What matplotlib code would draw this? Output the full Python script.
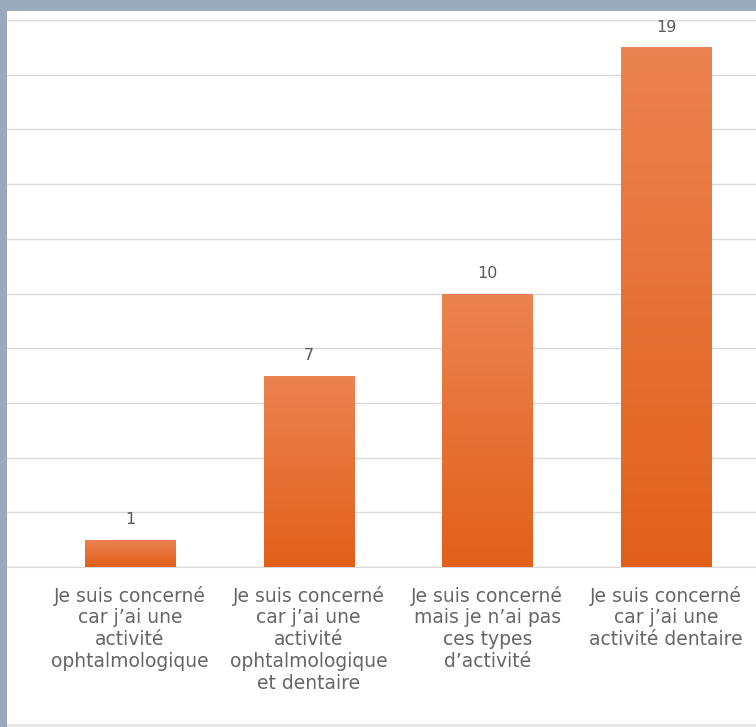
import matplotlib
matplotlib.use("Agg")
import matplotlib.pyplot as plt
import numpy as np
from matplotlib.colors import LinearSegmentedColormap
from matplotlib.patches import Rectangle

categories = [
    "Je suis concerné\ncar j'ai une\nactivité\nophtalmologique",
    "Je suis concerné\ncar j'ai une\nactivité\nophtalmologique\net dentaire",
    "Je suis concerné\nmais je n'ai pas\nces types\nd'activité",
    "Je suis concerné\ncar j'ai une\nactivité dentaire",
]
categories = [c.replace("'", "\u2019") for c in categories]
values = [1, 7, 10, 19]

W, H = 756, 727
fig = plt.figure(figsize=(W / 100, H / 100), dpi=100)
fig.patch.set_facecolor("#98AABB")

# white chart area
fig.add_artist(Rectangle((7 / W, (H - 724) / H), 1 - 7 / W, (724 - 11) / H,
                         transform=fig.transFigure, facecolor="white",
                         edgecolor="none", zorder=0))
fig.add_artist(Rectangle((7 / W, 0), 1 - 7 / W, (H - 724) / H,
                         transform=fig.transFigure, facecolor="#E6E6E6",
                         edgecolor="none", zorder=0))

ax_left, ax_right = 7, 756
ax_top, ax_bottom = 20, 567
ax = fig.add_axes([ax_left / W, (H - ax_bottom) / H,
                   (ax_right - ax_left) / W, (ax_bottom - ax_top) / H])
ax.set_facecolor("none")

spacing = 178.7
x = np.arange(len(values))
ax.set_xlim(-(130 - 7) / spacing, 3 + (756 - 666) / spacing)
ax.set_ylim(0, 20)
ax.set_yticks(np.arange(0, 21, 2))
ax.yaxis.grid(True, color="#D9D9D9", linewidth=1.0)
ax.set_axisbelow(True)
ax.tick_params(axis="y", left=False, labelleft=False)
ax.tick_params(axis="x", bottom=False, pad=10)
for s in ["top", "right", "left"]:
    ax.spines[s].set_visible(False)
ax.spines["bottom"].set_color("#D9D9D9")

cmap = LinearSegmentedColormap.from_list("og", ["#E2601A", "#EB8352"])
bars = ax.bar(x, values, width=0.505, color="#E86E30", edgecolor="none", zorder=2)
grad = np.linspace(0, 1, 256).reshape(-1, 1)
for b in bars:
    x0, w, h = b.get_x(), b.get_width(), b.get_height()
    im = ax.imshow(grad, cmap=cmap, origin="lower", aspect="auto",
                   extent=[x0, x0 + w, 0, h], zorder=3)
    im.set_clip_path(b)

for xi, v in zip(x, values):
    ax.annotate(str(v), (xi, v), xytext=(0, 9), textcoords="offset points",
                ha="center", va="bottom", fontsize=11.5, color="#595959",
                family="DejaVu Sans")

ax.set_xticks(x)
ax.set_xticklabels(categories, fontsize=13.5, color="#666666",
                   family="DejaVu Sans", linespacing=1.18, va="top")

fig.savefig("out.png", dpi=100, facecolor=fig.get_facecolor())
